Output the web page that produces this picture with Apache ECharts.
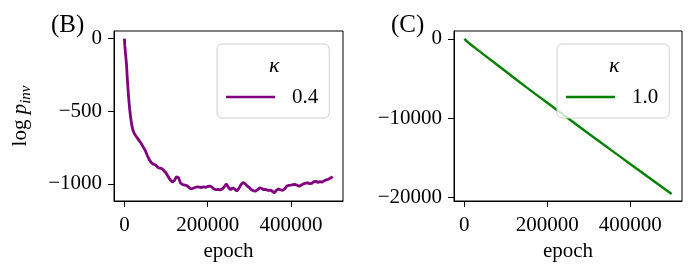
<!DOCTYPE html>
<html>
<head>
<meta charset="utf-8">
<script src="https://cdn.jsdelivr.net/npm/echarts@6/dist/echarts.min.js"></script>
<style>html,body{margin:0;padding:0;background:#fff}#c{width:694px;height:274px}</style>
</head>
<body>
<div id="c"></div>
<script>
// ---- data ----
const epochsB = [0,1000,2500,5000,7500,10000,12500,15000,17500,20000,22500,25000,30000,35000,40000,45000,50000,55000,60000,65000,70000,75000,80000,85000,90000,95000,100000,105000,110000,115000,120000,125000,130000,135000,140000,145000,150000,155000,160000,165000,170000,175000,180000,185000,190000,195000,200000,205000,210000,215000,220000,225000,230000,235000,240000,245000,250000,255000,260000,265000,270000,275000,280000,285000,290000,295000,300000,305000,310000,315000,320000,325000,330000,335000,340000,345000,350000,355000,360000,365000,370000,375000,380000,385000,390000,395000,400000,405000,410000,415000,420000,425000,430000,435000,440000,445000,450000,455000,460000,465000,470000,475000,480000,485000,490000,495000,500000];
const logpB = [0,-50,-100,-175,-300,-400,-480,-545,-590,-625,-645,-660,-680,-700,-720,-745,-770,-805,-835,-855,-865,-870,-885,-892,-895,-910,-925,-950,-972,-988,-978,-950,-958,-995,-1005,-1008,-1012,-1025,-1035,-1030,-1025,-1020,-1022,-1026,-1020,-1024,-1018,-1015,-1022,-1035,-1040,-1038,-1042,-1035,-1020,-1000,-1025,-1040,-1028,-1035,-1050,-1030,-1005,-990,-1000,-1015,-1025,-1040,-1048,-1050,-1040,-1028,-1032,-1040,-1038,-1045,-1043,-1050,-1062,-1045,-1035,-1042,-1045,-1035,-1015,-1010,-1008,-1005,-1004,-1010,-1016,-1008,-1000,-995,-993,-998,-996,-985,-982,-990,-985,-988,-978,-972,-968,-960,-950];
const epochsC = [0,10000,25000,50000,100000,150000,200000,250000,300000,350000,400000,450000,500000];
const logpC = [0,-480,-1100,-2100,-4100,-6100,-8050,-10000,-11950,-13850,-15750,-17650,-19550];
const kappaB = '0.4';
const kappaC = '1.0';
const xTicks = [0,200000,400000];
const yTicksB = [-1000,-500,0];
const yTicksC = [-20000,-10000,0];

const FONT = 'Liberation Serif';
const chart = echarts.init(document.getElementById('c'), null, {renderer:'canvas'});
const fmt = v => (v < 0 ? '\u2212' + Math.abs(v) : String(v));
function xAx(gi){
  return {type:'value', gridIndex:gi, min:-25000, max:525000,
    axisLine:{show:true, onZero:false, lineStyle:{color:'#000', width:1}},
    axisTick:{show:true, inside:false, length:6, lineStyle:{color:'#000'}, customValues:xTicks},
    axisLabel:{show:true, margin:14, fontFamily:FONT, fontSize:21, color:'#000', customValues:xTicks, formatter:fmt},
    splitLine:{show:false},
    name:'epoch', nameLocation:'middle', nameGap:40,
    nameTextStyle:{fontFamily:FONT, fontSize:21, color:'#000'}};
}
function yAx(gi, min, max, ticks, name){
  const o = {type:'value', gridIndex:gi, min:min, max:max,
    axisLine:{show:true, onZero:false, lineStyle:{color:'#000', width:1}},
    axisTick:{show:true, inside:false, length:6, lineStyle:{color:'#000'}, customValues:ticks},
    axisLabel:{show:true, margin:12, fontFamily:FONT, fontSize:21, color:'#000', customValues:ticks, formatter:fmt},
    splitLine:{show:false}};
  if(name){
    o.name = '{l|log }{p|p}{s|inv}';
    o.nameLocation = 'middle';
    o.nameGap = 80;
    o.nameRotate = 90;
    o.nameTextStyle = {fontFamily:FONT, fontSize:21, color:'#000',
      rich:{l:{fontFamily:FONT,fontSize:21,color:'#000',lineHeight:28,verticalAlign:'middle'},
            p:{fontFamily:FONT,fontSize:21,fontStyle:'italic',color:'#000',lineHeight:28,verticalAlign:'middle'},
            s:{fontFamily:FONT,fontSize:15,fontStyle:'italic',color:'#000',lineHeight:16,verticalAlign:'bottom'}}};
  }
  return o;
}
function legendAt(left, name){
  return {show:true, data:[name], left:left, top:44, orient:'horizontal', icon:'rect',
    padding:[41,11,9,9], itemWidth:49, itemHeight:2.5,
    backgroundColor:'rgba(255,255,255,0.8)', borderColor:'#d0d0d0', borderWidth:1, borderRadius:5,
    textStyle:{fontFamily:FONT, fontSize:21, color:'#000', lineHeight:24, padding:[0,0,0,12]}};
}
chart.setOption({
  animation:false,
  backgroundColor:'#fff',
  grid:[
    {left:114, right:351, top:31, bottom:73, show:true, borderColor:'#000', borderWidth:1, backgroundColor:'transparent'},
    {left:454, right:12, top:31, bottom:73, show:true, borderColor:'#000', borderWidth:1, backgroundColor:'transparent'}
  ],
  xAxis:[xAx(0), xAx(1)],
  yAxis:[yAx(0,-1118,53,yTicksB,true), yAx(1,-20420,1000,yTicksC,false)],
  title:[
    {text:'(B)', left:46, top:8, textStyle:{fontFamily:FONT, fontSize:25, fontWeight:'normal', color:'#000'}},
    {text:'(C)', left:386, top:8, textStyle:{fontFamily:FONT, fontSize:25, fontWeight:'normal', color:'#000'}},
    {text:'\u03ba', left:264, top:50, textStyle:{fontFamily:FONT, fontSize:22, fontStyle:'italic', fontWeight:'normal', color:'#000'}, z:10},
    {text:'\u03ba', left:604, top:50, textStyle:{fontFamily:FONT, fontSize:22, fontStyle:'italic', fontWeight:'normal', color:'#000'}, z:10}
  ],
  legend:[legendAt(217, kappaB), legendAt(557, kappaC)],
  series:[
    {name:kappaB, type:'line', xAxisIndex:0, yAxisIndex:0, showSymbol:false, symbol:'none',
     data:epochsB.map((e,i)=>[e,logpB[i]]), lineStyle:{color:'#800080', width:2.8}, itemStyle:{color:'#800080'}},
    {name:kappaC, type:'line', xAxisIndex:1, yAxisIndex:1, showSymbol:false, symbol:'none', smooth:0.3,
     data:epochsC.map((e,i)=>[e,logpC[i]]), lineStyle:{color:'#008000', width:2.4}, itemStyle:{color:'#008000'}}
  ]
});
</script>
</body>
</html>
